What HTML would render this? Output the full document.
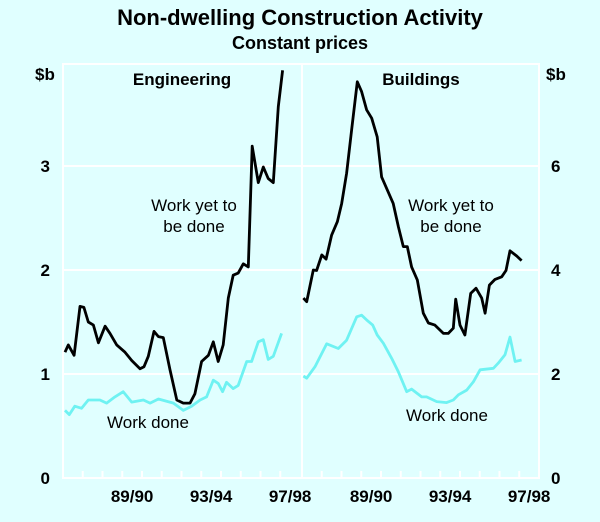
<!DOCTYPE html>
<html><head><meta charset="utf-8"><style>
body{margin:0;background:#e0ffff;}
svg{display:block;font-family:"Liberation Sans",Arial,sans-serif;}
</style></head><body>
<svg width="600" height="522" viewBox="0 0 600 522">
<rect width="600" height="522" fill="#e0ffff"/>
<text x="300" y="25" text-anchor="middle" font-size="22" font-weight="bold">Non-dwelling Construction Activity</text>
<text x="300" y="49" text-anchor="middle" font-size="18" font-weight="bold">Constant prices</text>
<g id="grid"></g>
<g id="lines"></g>
<g id="labels" font-size="17"></g>
</svg>
<script>
const engDates=[1986.6,1986.77,1987.06,1987.36,1987.56,1987.78,1988.04,1988.29,1988.63,1988.88,1989.22,1989.64,1989.98,1990.4,1990.6,1990.82,1991.11,1991.33,1991.58,1991.92,1992.26,1992.59,1992.93,1993.18,1993.52,1993.86,1994.11,1994.36,1994.61,1994.87,1995.12,1995.37,1995.63,1995.88,1996.08,1996.39,1996.64,1996.89,1997.15,1997.4,1997.62];
const engYet=[1.21,1.28,1.18,1.65,1.64,1.50,1.47,1.30,1.46,1.39,1.28,1.21,1.13,1.05,1.07,1.17,1.41,1.36,1.35,1.04,0.75,0.72,0.72,0.81,1.12,1.18,1.31,1.12,1.28,1.73,1.95,1.97,2.06,2.03,3.19,2.84,2.99,2.88,2.84,3.57,3.92];
const engDoneDates=[1986.6,1986.82,1987.1,1987.44,1987.78,1988.37,1988.71,1989.13,1989.55,1989.98,1990.57,1990.91,1991.33,1992.09,1992.59,1993.01,1993.44,1993.77,1994.11,1994.36,1994.58,1994.78,1995.12,1995.37,1995.8,1996.05,1996.39,1996.64,1996.89,1997.15,1997.57];
const engDone=[0.65,0.61,0.69,0.67,0.75,0.75,0.72,0.78,0.83,0.73,0.75,0.72,0.76,0.72,0.65,0.69,0.75,0.78,0.94,0.91,0.83,0.92,0.86,0.89,1.12,1.12,1.31,1.33,1.14,1.17,1.39];
const bldDates=[1986.57,1986.74,1987.07,1987.24,1987.5,1987.72,1988.0,1988.29,1988.51,1988.76,1989.01,1989.3,1989.52,1989.77,1990.03,1990.31,1990.53,1990.82,1991.12,1991.38,1991.63,1991.83,1992.05,1992.34,1992.64,1992.9,1993.23,1993.66,1993.91,1994.16,1994.28,1994.5,1994.75,1995.04,1995.31,1995.6,1995.77,1995.99,1996.27,1996.61,1996.83,1997.03,1997.37,1997.62];
const bldYet=[3.46,3.39,4.0,3.99,4.29,4.21,4.67,4.93,5.28,5.86,6.69,7.62,7.43,7.08,6.92,6.56,5.79,5.54,5.28,4.83,4.45,4.45,4.06,3.81,3.17,2.98,2.94,2.78,2.78,2.88,3.44,2.94,2.75,3.55,3.65,3.46,3.17,3.71,3.82,3.87,3.99,4.37,4.27,4.18];
const bldDoneDates=[1986.57,1986.74,1987.16,1987.75,1988.34,1988.76,1989.27,1989.52,1989.77,1990.08,1990.31,1990.62,1991.04,1991.38,1991.8,1992.05,1992.56,1992.81,1993.32,1993.82,1994.16,1994.42,1994.84,1995.18,1995.52,1996.19,1996.44,1996.78,1997.03,1997.29,1997.62];
const bldDone=[1.96,1.92,2.14,2.58,2.49,2.65,3.10,3.13,3.04,2.94,2.75,2.59,2.30,2.04,1.66,1.71,1.56,1.56,1.47,1.45,1.50,1.60,1.69,1.85,2.08,2.11,2.21,2.37,2.71,2.24,2.27];
const leftTicks=[0,1,2,3];
const rightTicks=[0,2,4,6];
const yearLabels=["89/90","93/94","97/98"];
const yearLabelPos=[1990,1994,1998];

const NS="http://www.w3.org/2000/svg";
const T0=1986.5, YW=19.75, TOP=64, BOT=478, UNIT=104;
function xL(d){return 63+(d-T0)*YW;}
function xR(d){return 302+(d-T0)*YW;}
function yL(v){return BOT-v*UNIT;}
function yR(v){return BOT-v/2*UNIT;}
function mk(tag,attrs,parent){const e=document.createElementNS(NS,tag);for(const k in attrs)e.setAttribute(k,attrs[k]);parent.appendChild(e);return e;}
const grid=document.getElementById('grid'),lines=document.getElementById('lines'),labels=document.getElementById('labels');

[[63,302],[302,539]].forEach((p,i)=>{
  const r=mk('rect',{x:p[0],y:TOP,width:p[1]-p[0],height:BOT-TOP,fill:'none',stroke:'#fff','stroke-width':2},grid);
  
  
  for(let y=1987.5;y<1998;y+=1){
    const x=(i?xR:xL)(y);
    const t=mk('line',{x1:x,x2:x,y1:BOT,y2:BOT-7,stroke:'#fff','stroke-width':2},grid);
    
    
  }
  yearLabels.forEach((lab,j)=>{
    const t=mk('text',{x:(i?xR:xL)(yearLabelPos[j]),y:BOT+24,'text-anchor':'middle','font-weight':'bold'},labels);
    t.textContent=lab;
    
    
  });
});
leftTicks.forEach(v=>{
  if(v>0){const g=mk('line',{x1:63,x2:539,y1:yL(v),y2:yL(v),stroke:'#fff','stroke-width':2},grid);
  
  }
  const t=mk('text',{x:50,y:yL(v)+6,'text-anchor':'end','font-weight':'bold'},labels);t.textContent=v;
  
  
});
rightTicks.forEach(v=>{
  const t=mk('text',{x:551,y:yR(v)+6,'text-anchor':'start','font-weight':'bold'},labels);t.textContent=v;
  
  
});
function path(ds,vs,fx,fy,col,name){
  const d=ds.map((t,i)=>(i?'L':'M')+fx(t).toFixed(1)+' '+fy(vs[i]).toFixed(1)).join(' ');
  const p=mk('path',{d:d,fill:'none',stroke:col,'stroke-width':2.8,'stroke-linejoin':'round'},lines);
  
  
}
path(engDoneDates,engDone,xL,yL,'#6ff2f2','engineering-work-done-line');
path(engDates,engYet,xL,yL,'#000','engineering-work-yet-line');
path(bldDoneDates,bldDone,xR,yR,'#6ff2f2','buildings-work-done-line');
path(bldDates,bldYet,xR,yR,'#000','buildings-work-yet-line');

const ann=[["$b",35,80,"start","left-unit-label",true],["$b",546,80,"start","right-unit-label",true],
["Engineering",182,85,"middle","engineering-label",true],["Buildings",421,85,"middle","buildings-label",true],
["Work yet to",194,211,"middle","engineering-yet-label",false],["be done",194,232,"middle","engineering-yet-label-2",false],
["Work yet to",451,211,"middle","buildings-yet-label",false],["be done",451,232,"middle","buildings-yet-label-2",false],
["Work done",148,428,"middle","engineering-done-label",false],["Work done",447,421,"middle","buildings-done-label",false]];
ann.forEach(a=>{
  const t=mk('text',{x:a[1],y:a[2],'text-anchor':a[3]},labels);
  if(a[5])t.setAttribute('font-weight','bold');
  t.textContent=a[0];
  
  
});
</script>
</body></html>
